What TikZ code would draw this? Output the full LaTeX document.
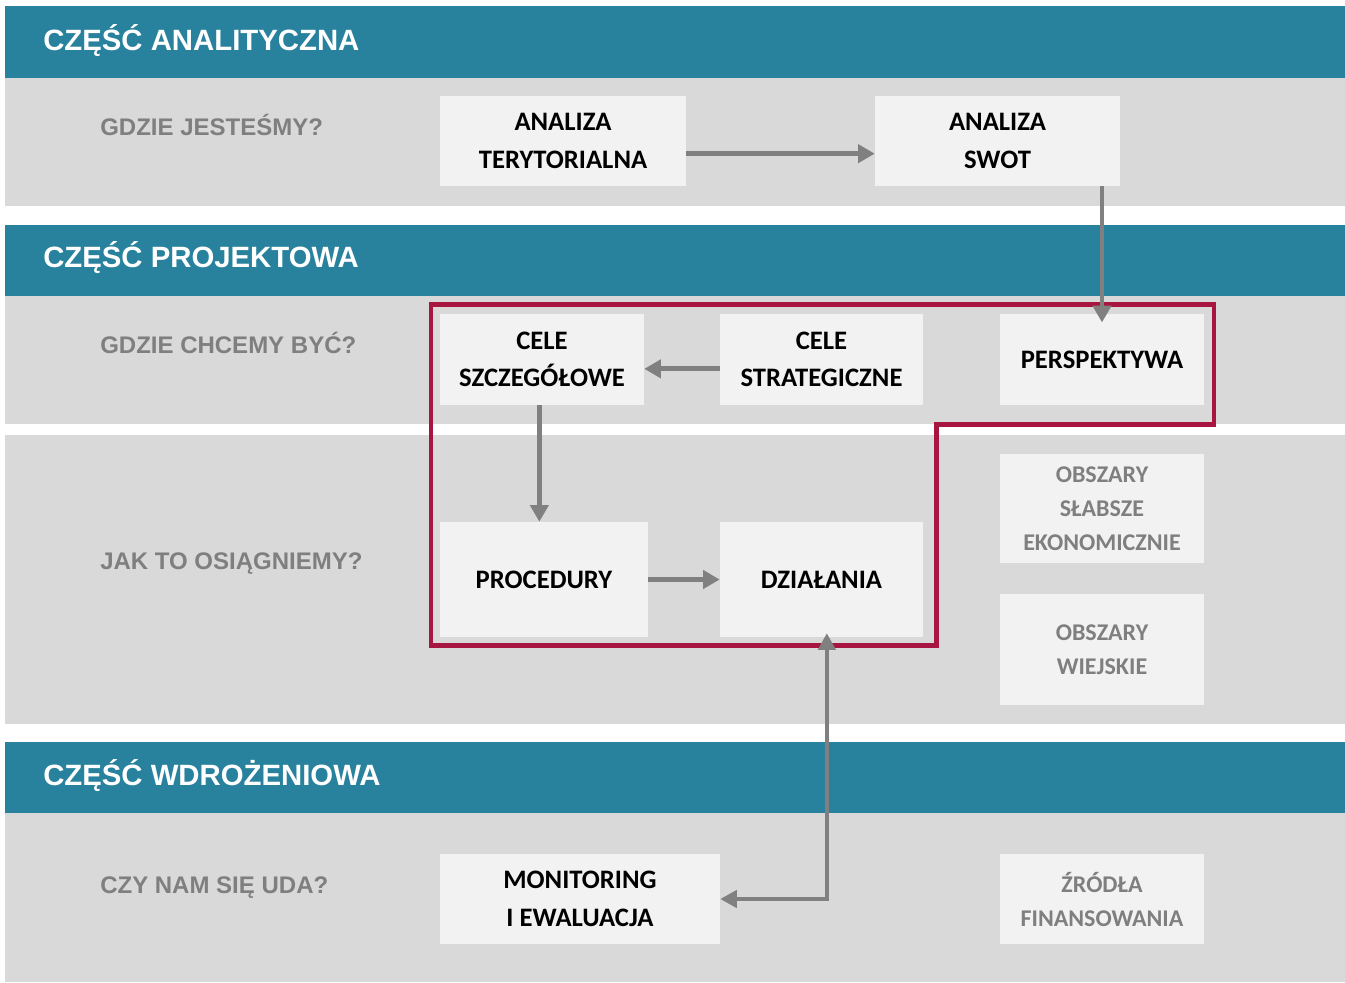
\documentclass[tikz,border=0pt]{standalone}
\usepackage{fontspec}
\setmainfont{Carlito}
\newfontfamily\arialf{Liberation Sans}
\usetikzlibrary{arrows.meta,calc}
\definecolor{teal1}{RGB}{40,130,158}
\definecolor{bandgray}{RGB}{217,217,217}
\definecolor{boxfill}{RGB}{242,242,242}
\definecolor{arrgray}{RGB}{128,128,128}
\definecolor{qgray}{RGB}{127,127,127}
\definecolor{crim}{RGB}{166,22,64}
\tikzset{
  band/.style={fill=bandgray,draw=none},
  hband/.style={fill=teal1,draw=none},
  htext/.style={anchor=base west,inner sep=0pt,text=white,font=\arialf\bfseries\fontsize{22pt}{26pt}\selectfont},
  qtext/.style={anchor=base west,inner sep=0pt,text=qgray,font=\arialf\bfseries\fontsize{18pt}{21pt}\selectfont},
  bx/.style={fill=boxfill,draw=none,align=center,inner sep=0pt,text=black,font=\bfseries\fontsize{20pt}{28pt}\selectfont},
  gbx/.style={fill=boxfill,draw=none,align=center,inner sep=0pt,text=qgray,font=\bfseries\fontsize{18pt}{25.5pt}\selectfont},
  arr/.style={draw=arrgray,line width=3.6pt,-{Triangle[length=12.5pt,width=13.5pt]}},
  darr/.style={draw=arrgray,line width=2.8pt,{Triangle[length=12.5pt,width=13pt]}-{Triangle[length=12.5pt,width=13pt]}},
  outline/.style={draw=crim,line width=3.2pt,line join=miter}
}
\begin{document}
\begin{tikzpicture}[x=0.75pt,y=-0.75pt]
\useasboundingbox (0,0) rectangle (1345,982);
\fill[white] (0,0) rectangle (1345,982);
% bands
\fill[hband] (5,6) rectangle (1345,78);
\fill[band] (5,78) rectangle (1345,206);
\fill[hband] (5,225) rectangle (1345,296);
\fill[band] (5,296) rectangle (1345,424);
\fill[band] (5,435) rectangle (1345,724);
\fill[hband] (5,742) rectangle (1345,813);
\fill[band] (5,813) rectangle (1345,982);
% headers
\node[htext] (h1) at (43,50) {CZĘŚĆ ANALITYCZNA};
\node[htext] (h2) at (43,267) {CZĘŚĆ PROJEKTOWA};
\node[htext] (h3) at (43,785) {CZĘŚĆ WDROŻENIOWA};
% questions
\node[qtext] (q1) at (100,135) {GDZIE JESTEŚMY?};
\node[qtext] (q2) at (100,353) {GDZIE CHCEMY BYĆ?};
\node[qtext] (q3) at (100,569) {JAK TO OSIĄGNIEMY?};
\node[qtext] (q4) at (100,893) {CZY NAM SIĘ UDA?};
% boxes
\node[bx,minimum width=184.5pt,minimum height=67.5pt] (ter) at (563,141) {ANALIZA\\TERYTORIALNA};
\node[bx,minimum width=183.75pt,minimum height=67.5pt] (swot) at (997.5,141) {ANALIZA\\SWOT};
\node[bx,minimum width=153pt,minimum height=68.25pt] (szcz) at (542,359.5) {CELE\\SZCZEGÓŁOWE};
\node[bx,minimum width=152.25pt,minimum height=68.25pt] (strat) at (821.5,359.5) {CELE\\STRATEGICZNE};
\node[bx,minimum width=153pt,minimum height=68.25pt] (persp) at (1102,359.5) {PERSPEKTYWA};
\node[bx,minimum width=156pt,minimum height=86.25pt] (proc) at (544,579.5) {PROCEDURY};
\node[bx,minimum width=152.25pt,minimum height=86.25pt] (dzial) at (821.5,579.5) {DZIAŁANIA};
\node[gbx,minimum width=153pt,minimum height=81.75pt] (slab) at (1102,508.5) {OBSZARY\\SŁABSZE\\EKONOMICZNIE};
\node[gbx,minimum width=153pt,minimum height=83.25pt] (wiej) at (1102,649.5) {OBSZARY\\WIEJSKIE};
\node[bx,minimum width=210pt,minimum height=67.5pt] (mon) at (580,899) {MONITORING\\I EWALUACJA};
\node[gbx,minimum width=153pt,minimum height=67.5pt] (zrod) at (1102,899) {ŹRÓDŁA\\FINANSOWANIA};
% red outline
\coordinate (r1) at (431,304.5);
\coordinate (r2) at (1214,304.5);
\coordinate (r3) at (1214,424.5);
\coordinate (r4) at (936.5,424.5);
\coordinate (r5) at (936.5,645.5);
\coordinate (r6) at (431,645.5);
\draw[outline] (r1) -- (r2) -- (r3) -- (r4) -- (r5) -- (r6) -- cycle;
% arrows
\draw[arr] ([yshift=-9.5pt]ter.east) -- ([yshift=-9.5pt]swot.west);
\coordinate (pt) at ([yshift=-6.5pt]persp.north);
\draw[arr] (swot.south -| pt) -- (pt);
\draw[arr] ([yshift=-7pt]strat.west) -- ([yshift=-7pt]szcz.east);
\draw[arr] ([xshift=-2pt]szcz.south) -- ([xshift=-2pt]szcz.south |- proc.north);
\draw[arr] (proc.east) -- (dzial.east -| dzial.west);
\coordinate (dtip) at ([xshift=4pt,yshift=3pt]dzial.south);
\draw[darr] (dtip) -- (dtip |- mon.east) -- (mon.east);
\end{tikzpicture}
\end{document}
